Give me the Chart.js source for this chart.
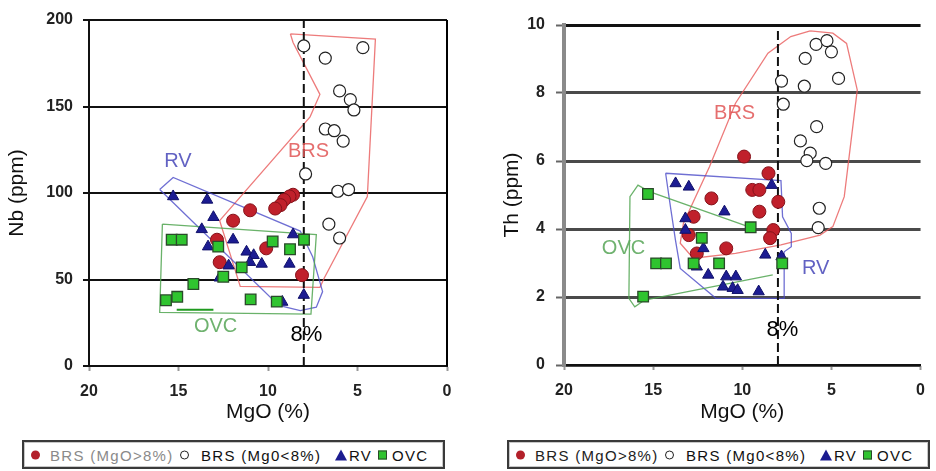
<!DOCTYPE html>
<html>
<head>
<meta charset="utf-8">
<script src="https://cdn.jsdelivr.net/npm/chart.js@4.4.0/dist/chart.umd.min.js"></script>
<style>
  body { margin: 0; background: #fff; }
  #page { position: relative; width: 936px; height: 471px; overflow: hidden; font-family: Arial, 'Liberation Sans', sans-serif; }
  .box { position: absolute; top: 0; width: 468px; height: 425px; }
  .legend { position: absolute; top: 440px; width: 423px; height: 29px; box-sizing: border-box; border: 2px solid #3a3a3a; box-shadow: inset 0 0 0 1px #c8c8c8; }
  .legend span { position: absolute; top: 50%; transform: translateY(-50%); }
  .lt { font-size: 15px; letter-spacing: 1.3px; color: #111; white-space: nowrap; }
  .m-red { width: 9px; height: 9px; border-radius: 50%; background: #b3202a; margin-left: -4.5px; }
  .m-open { width: 7px; height: 7px; border-radius: 50%; border: 1.5px solid #222; background: #fff; margin-left: -5px; }
  .m-tri { width: 0; height: 0; border-left: 6px solid transparent; border-right: 6px solid transparent; border-bottom: 11px solid #1c1c90; margin-left: -6px; }
  .m-sq { width: 7px; height: 7px; border: 1.5px solid #2a4a2a; background: #2fc42f; margin-left: -5px; }
</style>
</head>
<body>
<div id="page">
  <div class="box" style="left:0"><canvas id="nbChart"></canvas></div>
  <div class="box" style="left:468px"><canvas id="thChart"></canvas></div>
  <div class="legend" id="nbLegend" style="left:22px"></div>
  <div class="legend" id="thLegend" style="left:507px"></div>
</div>
<script>
// ---- data ----
const mgoTicks = [0, 5, 10, 15, 20];
const nbTicks = [0, 50, 100, 150, 200];
const thTicks = [0, 2, 4, 6, 8, 10];
const cutOff = 8; // 8% MgO

const legendNames = ['BRS (MgO>8%)', 'BRS (Mg0<8%)', 'RV', 'OVC'];

// Nb vs MgO
const nbBrsHigh = [[8.6,99],[8.8,98],[9.1,96],[9.3,93],[9.6,91],[11.0,90],[11.95,84],[12.85,73],[10.1,68],[12.7,60],[8.1,52.5]];
const nbBrsLow = [[8.0,185],[4.7,184],[6.8,178],[6.0,159],[5.4,154],[5.2,148],[6.8,137],[6.3,136],[5.8,130],[7.9,111],[6.1,101],[5.5,102],[6.6,82],[6.0,74]];
const nbRv = [[15.3,98],[13.4,96],[13.05,86],[13.7,79],[11.95,73],[13.35,69],[11.2,66],[10.8,64],[10.35,59],[11.0,60],[8.6,76],[8.8,59],[12.2,58],[12.7,51],[8.0,41],[9.2,37]];
const nbOvc = [[15.38,73],[14.82,73],[12.78,69],[9.74,72],[8.77,67.5],[7.99,73],[11.47,57],[12.5,51.6],[14.17,47.4],[15.7,38],[15.07,40],[10.97,38.5],[9.51,37.2]];
const nbBrsField = [[8.75,192],[4.0,189],[4.45,98],[6.85,51],[7.1,45.5],[11.55,46],[12.7,84],[7.65,144],[7.1,157],[8.6,187],[8.75,192]];
const nbRvField = [[16.05,102],[15.3,109],[8.2,78],[7.5,63],[6.95,43],[7.3,34],[8.2,32],[9.4,35],[16.05,102]];
const nbOvcField = [[15.9,82],[7.3,76],[7.6,30],[16.05,31],[15.9,82]];
const nbOvcStroke = [[15.1,32.5],[13.05,32.5]];
const nbNotes = [['RV',15.03,118],['BRS',7.74,124],['OVC',12.93,23],['8%',7.85,18]];

// Th vs MgO
const thBrsHigh = [[9.9,6.13],[8.53,5.64],[9.44,5.15],[9.04,5.15],[11.73,4.9],[7.98,4.8],[9.04,4.51],[12.73,4.36],[8.26,3.97],[8.44,3.73],[13.0,3.82],[12.55,3.28],[10.9,3.43]];
const thBrsLow = [[5.86,9.43],[5.25,9.54],[5.0,9.21],[6.47,9.02],[4.6,8.43],[7.8,8.35],[6.52,8.2],[7.7,7.67],[5.83,7.01],[6.74,6.59],[6.19,6.23],[6.38,6.01],[5.32,5.93],[5.68,4.61],[5.74,4.04]];
const thRv = [[13.74,5.34],[13.0,5.24],[8.35,5.29],[11.0,4.51],[13.19,4.31],[13.19,3.97],[12.18,3.43],[8.71,3.24],[7.8,3.19],[12.55,2.89],[11.91,2.65],[10.9,2.6],[10.36,2.6],[11.08,2.3],[10.54,2.26],[10.26,2.2],[9.08,2.16]];
const thOvc = [[15.29,5.03],[9.53,4.05],[12.27,3.74],[14.83,2.99],[14.28,2.99],[12.73,2.99],[11.3,2.99],[7.76,2.99],[15.56,2.01]];
const thBrsField = [[6.19,9.83],[4.92,9.76],[4.15,9.46],[3.55,8.09],[4.28,4.95],[4.92,4.07],[5.64,3.82],[7.83,3.53],[10.38,3.28],[12.75,3.14],[13.48,3.58],[13.3,4.17],[11.84,5.83],[10.38,7.7],[8.56,9.17],[7.28,9.66],[6.19,9.83]];
const thRvField = [[14.3,5.64],[7.83,5.42],[7.74,4.36],[7.25,3.87],[7.25,3.48],[7.65,3.33],[7.65,1.96],[11.48,1.96],[13.48,2.84],[13.75,3.68],[14.03,4.66],[14.3,5.64]];
const thOvcField = [[8.29,2.65],[15.48,1.91],[16.03,1.71],[16.36,1.96],[16.3,4.95],[15.85,5.29],[15.21,5.1],[9.66,4.07]];
const thNotes = [['BRS',10.43,7.4],['OVC',16.66,3.44],['RV',5.88,2.84],['8%',7.75,1.03]];

// ---- drawing ----
Chart.defaults.font.family = "Arial, 'Liberation Sans', sans-serif";
Chart.defaults.animation = false;

const toXY = arr => arr.map(p => ({x: p[0], y: p[1]}));
const noteColors = {RV: 'rgba(70,70,185,0.85)', BRS: 'rgba(225,85,85,0.85)', OVC: 'rgba(95,170,95,0.9)', '8%': '#000'};

const notesPlugin = {
  id: 'notes',
  afterDatasetsDraw(chart, args, opts) {
    const {ctx, scales} = chart;
    ctx.save();
    ctx.textAlign = 'center';
    ctx.textBaseline = 'middle';
    opts.items.forEach(([text, x, y]) => {
      ctx.font = (text === '8%' ? '22px' : '20px') + " Arial, 'Liberation Sans', sans-serif";
      ctx.fillStyle = noteColors[text];
      ctx.fillText(text, scales.x.getPixelForValue(x), scales.y.getPixelForValue(y));
    });
    ctx.restore();
  }
};

const framePlugin = {
  id: 'frame',
  afterDraw(chart, args, opts) {
    if (!opts.right) return;
    const {ctx, chartArea: a} = chart;
    ctx.save();
    ctx.strokeStyle = '#000';
    ctx.lineWidth = 2;
    ctx.beginPath();
    ctx.moveTo(a.right, a.top);
    ctx.lineTo(a.right, a.bottom);
    ctx.stroke();
    ctx.restore();
  }
};

function outline(data, color, width, order) {
  return {data: toXY(data), showLine: true, fill: false, borderColor: color, borderWidth: width,
          pointRadius: 0, pointHoverRadius: 0, tension: 0, order: order};
}

function buildChart(id, s) {
  const yMax = s.yTicks[s.yTicks.length - 1];
  return new Chart(document.getElementById(id), {
    type: 'scatter',
    data: {
      datasets: [
        outline(s.brsField, 'rgba(232,90,90,0.8)', 1.3, 9),
        outline(s.rvField, 'rgba(75,75,200,0.8)', 1.3, 8),
        outline(s.ovcField, 'rgba(80,165,80,0.85)', 1.3, 7),
        ...(s.ovcStroke ? [outline(s.ovcStroke, '#1f9a1f', 2, 7)] : []),
        Object.assign(outline([[cutOff, 0], [cutOff, yMax]], '#111', 2, 6), {borderDash: [9, 4]}),
        {label: legendNames[0], data: toXY(s.brsHigh), pointStyle: 'circle', pointRadius: 6.5,
         backgroundColor: '#c0202b', borderColor: '#85121a', borderWidth: 1, order: 4},
        {label: legendNames[2], data: toXY(s.rv), pointStyle: 'triangle', pointRadius: 6.5,
         backgroundColor: '#1c1c92', borderColor: '#10106a', borderWidth: 1, order: 3},
        {label: legendNames[3], data: toXY(s.ovc), pointStyle: 'rect', pointRadius: 7.5,
         backgroundColor: '#2fc42f', borderColor: '#2a4a2a', borderWidth: 1.3, order: 2},
        {label: legendNames[1], data: toXY(s.brsLow), pointStyle: 'circle', pointRadius: 6,
         backgroundColor: '#fff', borderColor: '#222', borderWidth: 1.2, order: 1}
      ]
    },
    options: {
      responsive: true,
      maintainAspectRatio: false,
      layout: {padding: s.padding},
      plugins: {legend: {display: false}, tooltip: {enabled: false}, notes: {items: s.notes}, frame: {right: s.rightFrame}},
      scales: {
        x: {
          type: 'linear', reverse: true, min: mgoTicks[0], max: mgoTicks[mgoTicks.length - 1],
          ticks: {stepSize: mgoTicks[1] - mgoTicks[0], color: '#222', font: {size: 16, weight: 'bold'}, padding: 11, maxRotation: 0},
          grid: {drawOnChartArea: false, tickLength: 5, tickColor: '#999', tickWidth: 2},
          border: {color: '#111', width: 2},
          title: {display: true, text: 'MgO (%)', color: '#111', font: {size: 21}, padding: {top: 0, bottom: 0}},
          afterFit: sc => { sc.height = s.xHeight; }
        },
        y: {
          type: 'linear', min: s.yTicks[0], max: yMax,
          ticks: {stepSize: s.yTicks[1] - s.yTicks[0], color: '#222', font: {size: 16, weight: 'bold'}, padding: s.yPad},
          grid: {color: s.gridColor, lineWidth: s.gridWidth, tickLength: s.tickLen, tickColor: s.tickColor, tickWidth: 2},
          border: {color: s.axisColor, width: s.axisWidth},
          title: {display: true, text: s.yTitle, color: '#111', font: {size: 21}, padding: {top: s.titlePad, bottom: 0}},
          afterFit: sc => { sc.width = s.yWidth; }
        }
      }
    },
    plugins: [notesPlugin, framePlugin]
  });
}

buildChart('nbChart', {
  brsHigh: nbBrsHigh, brsLow: nbBrsLow, rv: nbRv, ovc: nbOvc,
  brsField: nbBrsField, rvField: nbRvField, ovcField: nbOvcField, ovcStroke: nbOvcStroke,
  notes: nbNotes, yTicks: nbTicks, yTitle: 'Nb (ppm)',
  padding: {left: 0, right: 21, top: 20, bottom: 0},
  xHeight: 59, yWidth: 89, yPad: 10, tickLen: 6, tickColor: '#111', titlePad: 5,
  gridColor: '#111', gridWidth: 2, axisColor: '#111', axisWidth: 2, rightFrame: true
});

buildChart('thChart', {
  brsHigh: thBrsHigh, brsLow: thBrsLow, rv: thRv, ovc: thOvc,
  brsField: thBrsField, rvField: thRvField, ovcField: thOvcField,
  notes: thNotes, yTicks: thTicks, yTitle: 'Th (ppm)',
  padding: {left: 0, right: 7, top: 25, bottom: 0},
  xHeight: 60, yWidth: 96, yPad: 11, tickLen: 8, tickColor: '#666', titlePad: 32,
  gridColor: ctx => ctx.tick && ctx.tick.value === thTicks[thTicks.length - 1] ? '#111' : '#4a4a4a',
  gridWidth: 3, axisColor: '#8a8a8a', axisWidth: 4, rightFrame: false
});

// legends (same layout for both panels)
const legendLayout = [
  {mark: 'm-red', at: 11, textAt: 26, grey: true},
  {mark: 'm-open', at: 161, textAt: 177},
  {mark: 'm-tri', at: 317, textAt: 325},
  {mark: 'm-sq', at: 359, textAt: 368}
];
['nbLegend', 'thLegend'].forEach(id => {
  const box = document.getElementById(id);
  legendLayout.forEach((item, i) => {
    const m = document.createElement('span');
    m.className = item.mark;
    m.style.left = item.at + 'px';
    box.appendChild(m);
    const t = document.createElement('span');
    t.className = 'lt';
    t.style.left = item.textAt + 'px';
    t.textContent = legendNames[i];
    if (item.grey) t.style.color = id === 'nbLegend' ? '#8a8a8a' : '#222';
    box.appendChild(t);
  });
});
</script>
</body>
</html>
